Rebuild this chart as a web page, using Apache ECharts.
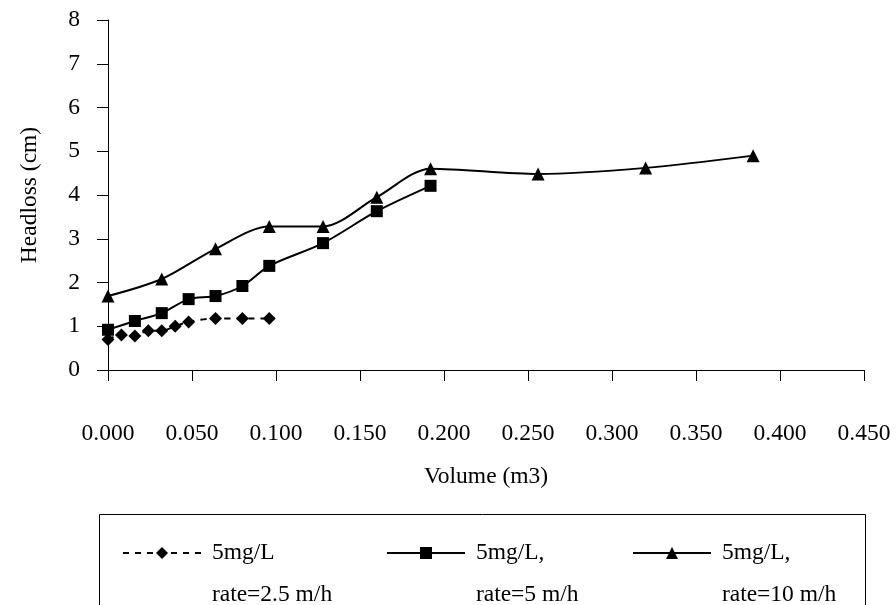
<!DOCTYPE html>
<html>
<head>
<meta charset="utf-8">
<script src="https://cdn.jsdelivr.net/npm/echarts@6/dist/echarts.min.js"></script>
<style>
html,body{margin:0;padding:0;background:#fff;}
#chart{width:896px;height:605px;}
</style>
</head>
<body>
<div id="chart"></div>
<script>
// ---- data ----
var vol25 = [0, 0.008, 0.016, 0.024, 0.032, 0.040, 0.048, 0.064, 0.080, 0.096];
var head25 = [0.70, 0.80, 0.78, 0.90, 0.90, 1.00, 1.10, 1.18, 1.18, 1.18];
var vol5 = [0, 0.016, 0.032, 0.048, 0.064, 0.080, 0.096, 0.128, 0.160, 0.192];
var head5 = [0.92, 1.12, 1.30, 1.62, 1.69, 1.92, 2.38, 2.90, 3.63, 4.21];
var vol10 = [0, 0.032, 0.064, 0.096, 0.128, 0.160, 0.192, 0.256, 0.320, 0.384];
var head10 = [1.69, 2.08, 2.77, 3.28, 3.28, 3.95, 4.60, 4.48, 4.62, 4.90];
var names = ['5mg/L\nrate=2.5 m/h', '5mg/L,\nrate=5 m/h', '5mg/L,\nrate=10 m/h'];
var xTitle = 'Volume (m3)';
var yTitle = 'Headloss (cm)';

function pairs(xs, ys) { return xs.map(function (x, i) { return [x, ys[i]]; }); }

var FONT = 'Liberation Serif';
var FS = 23.5;
var chart = echarts.init(document.getElementById('chart'), null, {renderer: 'canvas'});

function legendFor(name, left) {
  return {
    show: true,
    data: [name],
    left: left,
    top: 490,
    padding: 0,
    itemWidth: 78,
    itemHeight: 15,
    formatter: function (n) { return '\n ' + n.replace('\n', '\n '); },
    textStyle: {fontFamily: FONT, fontSize: FS, color: '#000', lineHeight: 42},
    selectedMode: false
  };
}

chart.setOption({
  animation: false,
  backgroundColor: '#fff',
  textStyle: {fontFamily: FONT, color: '#000'},
  grid: {left: 108, top: 20, right: 32, bottom: 235},
  xAxis: {
    type: 'value', min: 0, max: 0.45, interval: 0.05,
    name: xTitle, nameLocation: 'middle', nameGap: 95,
    nameTextStyle: {fontFamily: FONT, fontSize: FS, color: '#000'},
    axisLine: {show: true, onZero: false, lineStyle: {color: '#000', width: 1}},
    axisTick: {show: true, length: 11, lineStyle: {color: '#000'}},
    axisLabel: {margin: 52, fontFamily: FONT, fontSize: FS, color: '#000', showMaxLabel: true, showMinLabel: true,
      formatter: function (v) { return v.toFixed(3); }},
    splitLine: {show: false}
  },
  yAxis: {
    type: 'value', min: 0, max: 8, interval: 1,
    name: yTitle, nameLocation: 'middle', nameGap: 66, nameRotate: 90,
    nameTextStyle: {fontFamily: FONT, fontSize: FS, color: '#000'},
    axisLine: {show: true, lineStyle: {color: '#000', width: 1}},
    axisTick: {show: true, length: 11, lineStyle: {color: '#000'}},
    axisLabel: {margin: 28, fontFamily: FONT, fontSize: FS, color: '#000'},
    splitLine: {show: false}
  },
  legend: [legendFor(names[0], 122), legendFor(names[1], 386), legendFor(names[2], 632)],
  graphic: [{
    type: 'rect', left: 97, top: 512, silent: true,
    shape: {width: 766, height: 130},
    style: {fill: 'none', stroke: '#000', lineWidth: 1}
  }],
  series: [{
    name: names[0], type: 'line', data: pairs(vol25, head25),
    symbol: 'diamond', symbolSize: 13, smooth: 0.3,
    lineStyle: {color: '#000', width: 2, type: [6, 6]},
    itemStyle: {color: '#000'}
  }, {
    name: names[1], type: 'line', data: pairs(vol5, head5),
    symbol: 'rect', symbolSize: 12, smooth: 0.3,
    lineStyle: {color: '#000', width: 2},
    itemStyle: {color: '#000'}
  }, {
    name: names[2], type: 'line', data: pairs(vol10, head10),
    symbol: 'triangle', symbolSize: 13, smooth: 0.3,
    lineStyle: {color: '#000', width: 2},
    itemStyle: {color: '#000'}
  }]
});
</script>
</body>
</html>
